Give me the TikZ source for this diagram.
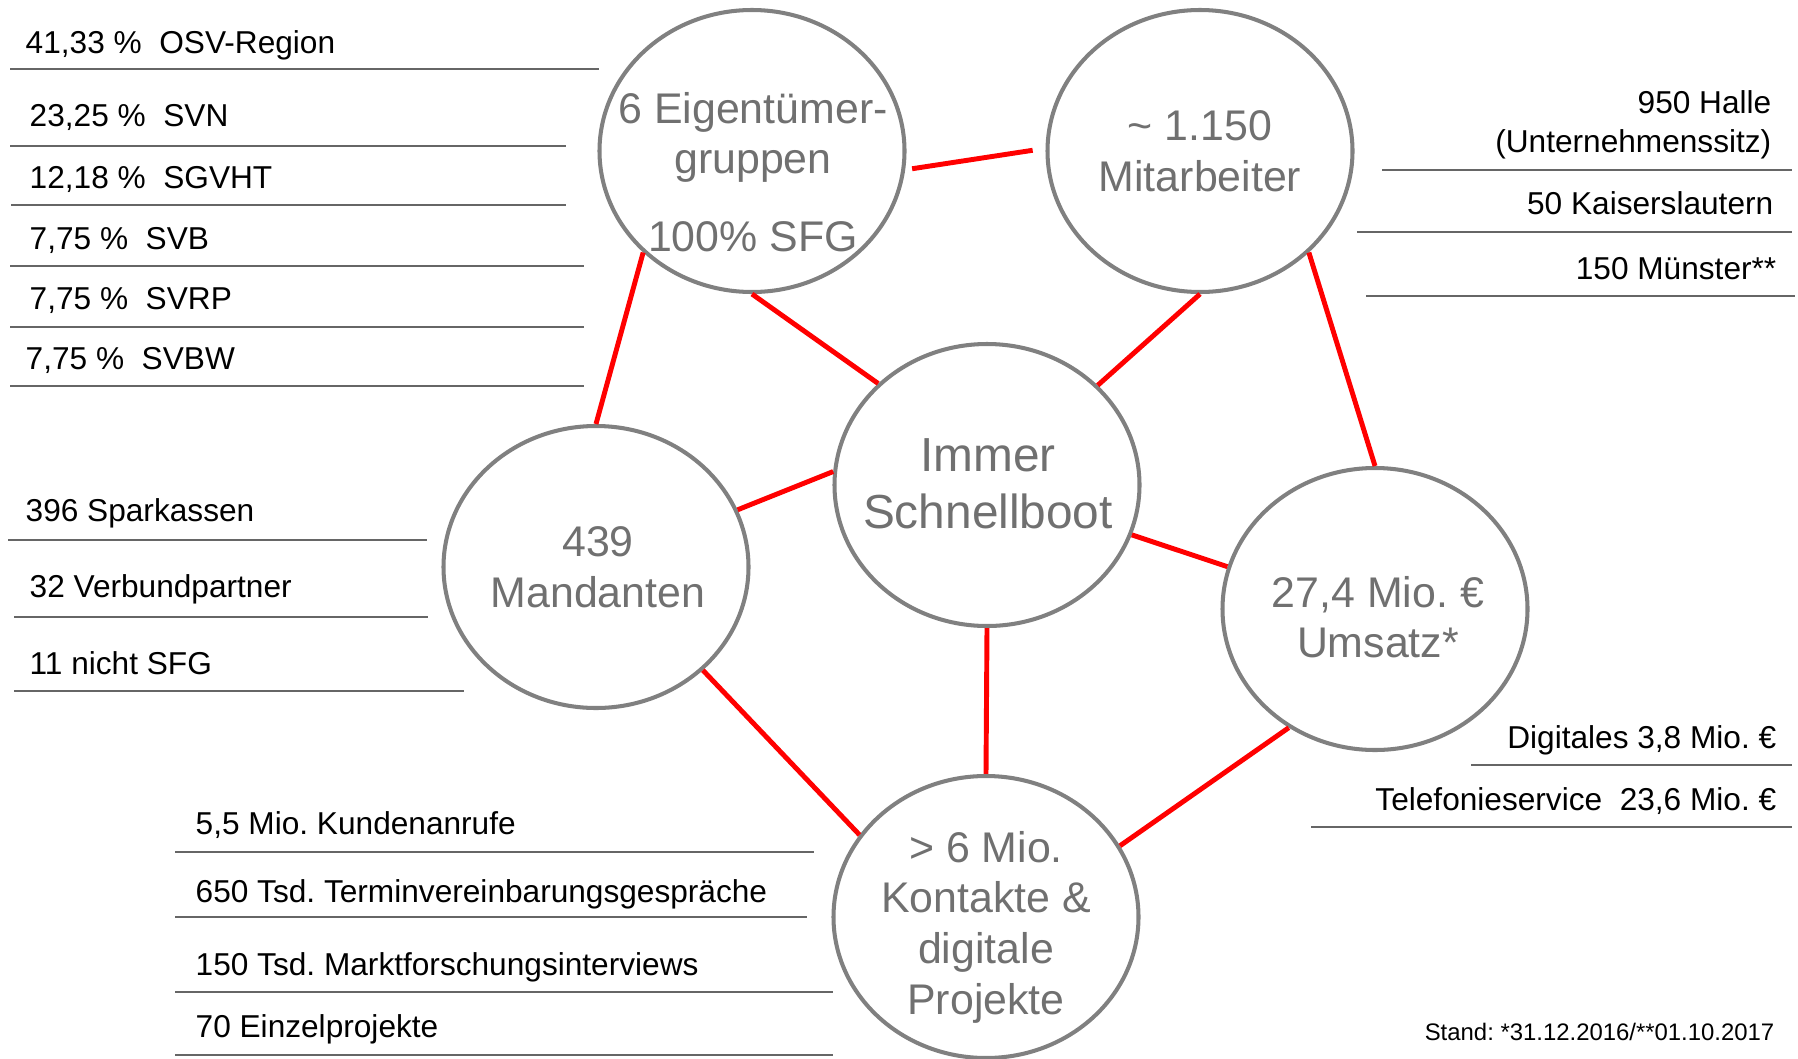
\documentclass[tikz,border=0pt]{standalone}
\usepackage{fontspec}
\setmainfont{Liberation Sans}
\usetikzlibrary{shapes.geometric}
\definecolor{ringgray}{RGB}{128,128,128}
\definecolor{ringink}{RGB}{112,112,112}
\definecolor{rulegray}{RGB}{102,102,102}
\frenchspacing

\begin{document}
\begin{tikzpicture}[
  ring/.style={ellipse, draw=ringgray, line width=1.15pt, minimum width=3.05cm, minimum height=2.82cm, inner sep=0pt},
  ringtext/.style={text=ringink, align=center, inner sep=0pt, font=\fontsize{12.2}{14.4}\selectfont},
  link/.style={draw=red, line width=1.4pt},
  sepline/.style={draw=rulegray, line width=0.8pt},
  lbl/.style={inner sep=0pt, font=\fontsize{9}{11}\selectfont, text height=6.5pt, text depth=0pt},
  lblblock/.style={inner sep=0pt, font=\fontsize{9}{11.1}\selectfont, align=right}
]
\useasboundingbox (0,0) rectangle (17.98,10.58);

% Circles
\node[ring] (eig) at (7.52,9.07) {};
\node[ring] (mit) at (12.00,9.07) {};
\node[ring] (imm) at (9.87,5.73) {};
\node[ring] (man) at (5.96,4.91) {};
\node[ring] (ums) at (13.75,4.49) {};
\node[ring] (kon) at (9.86,1.41) {};

% Circle texts
\node[ringtext] (eigtxt) at (7.53,8.86) {6 Eigentümer-\\gruppen\\[7.6pt]100\% SFG};
\node[ringtext] (mittxt) at (12.00,9.07) {\textasciitilde{} 1.150\\Mitarbeiter};
\node[ringtext, font=\fontsize{13.6}{16.3}\selectfont] (immtxt) at (9.88,5.74) {Immer\\Schnellboot};
\node[ringtext] (mantxt) at (5.98,4.91) {439\\Mandanten};
\node[ringtext] (umstxt) at (13.78,4.41) {27,4 Mio. €\\Umsatz*};
\node[ringtext] (kontxt) at (9.86,1.31) {> 6 Mio.\\Kontakte \&\\digitale\\Projekte};

% Connections
\draw[link, shorten <=0.07cm, shorten >=0.13cm] (eig.-7) -- (mit.179);
\draw[link] (eig.-90) -- (imm.137);
\draw[link] (mit.-90) -- (imm.42);
\draw[link] (eig.223) -- (man.90);
\draw[link] (mit.-43) -- (ums.90);
\draw[link] (man.22) -- (imm.175);
\draw[link] (imm.-19) -- (ums.164);
\draw[link] (imm.-90) -- (kon.90);
\draw[link] (man.-44) -- (kon.147);
\draw[link] (ums.-126) -- (kon.28);

% Owners
\node[lbl, anchor=west] (osv) at (0.25,10.16) {41,33~\%\ \ OSV-Region};
\draw[sepline] (0.10,9.89) -- (5.99,9.89);
\node[lbl, anchor=west] (svn) at (0.29,9.43) {23,25~\%\ \ SVN};
\draw[sepline] (0.10,9.12) -- (5.66,9.12);
\node[lbl, anchor=west] (sgvht) at (0.29,8.81) {12,18~\%\ \ SGVHT};
\draw[sepline] (0.11,8.53) -- (5.66,8.53);
\node[lbl, anchor=west] (svb) at (0.29,8.20) {7,75~\%\ \ SVB};
\draw[sepline] (0.10,7.92) -- (5.84,7.92);
\node[lbl, anchor=west] (svrp) at (0.29,7.60) {7,75~\%\ \ SVRP};
\draw[sepline] (0.10,7.31) -- (5.84,7.31);
\node[lbl, anchor=west] (svbw) at (0.25,7.00) {7,75~\%\ \ SVBW};
\draw[sepline] (0.10,6.72) -- (5.84,6.72);

% Clients
\node[lbl, anchor=west] (spk) at (0.25,5.48) {396 Sparkassen};
\draw[sepline] (0.08,5.18) -- (4.27,5.18);
\node[lbl, anchor=west] (vbp) at (0.29,4.72) {32 Verbundpartner};
\draw[sepline] (0.14,4.41) -- (4.28,4.41);
\node[lbl, anchor=west] (nsfg) at (0.29,3.95) {11 nicht SFG};
\draw[sepline] (0.14,3.67) -- (4.64,3.67);

% Contacts
\node[lbl, anchor=west] (anrufe) at (1.95,2.35) {5,5 Mio. Kundenanrufe};
\draw[sepline] (1.75,2.06) -- (8.14,2.06);
\node[lbl, anchor=west] (termin) at (1.95,1.67) {650 Tsd. Terminvereinbarungsgespräche};
\draw[sepline] (1.75,1.41) -- (8.07,1.41);
\node[lbl, anchor=west] (markt) at (1.95,0.94) {150 Tsd. Marktforschungsinterviews};
\draw[sepline] (1.75,0.66) -- (8.33,0.66);
\node[lbl, anchor=west] (einzel) at (1.95,0.32) {70 Einzelprojekte};
\draw[sepline] (1.75,0.03) -- (8.33,0.03);

% Staff
\node[lblblock, anchor=east] (halle) at (17.72,9.33) {950 Halle\\(Unternehmenssitz)};
\draw[sepline] (13.82,8.88) -- (17.92,8.88);
\node[lbl, anchor=east] (kl) at (17.74,8.55) {50 Kaiserslautern};
\draw[sepline] (13.57,8.26) -- (17.92,8.26);
\node[lbl, anchor=east] (ms) at (17.77,7.90) {150 Münster**};
\draw[sepline] (13.66,7.62) -- (17.95,7.62);

% Revenue
\node[lbl, anchor=east] (digi) at (17.77,3.21) {Digitales 3,8 Mio.~€};
\draw[sepline] (14.71,2.93) -- (17.92,2.93);
\node[lbl, anchor=east] (tel) at (17.77,2.59) {Telefonieservice\ \ 23,6 Mio.~€};
\draw[sepline] (13.11,2.31) -- (17.92,2.31);

% Date
\node[lbl, anchor=east, font=\fontsize{6.8}{8}\selectfont, text height=4.9pt] (stand) at (17.75,0.26) {Stand: *31.12.2016/**01.10.2017};
\end{tikzpicture}
\end{document}
